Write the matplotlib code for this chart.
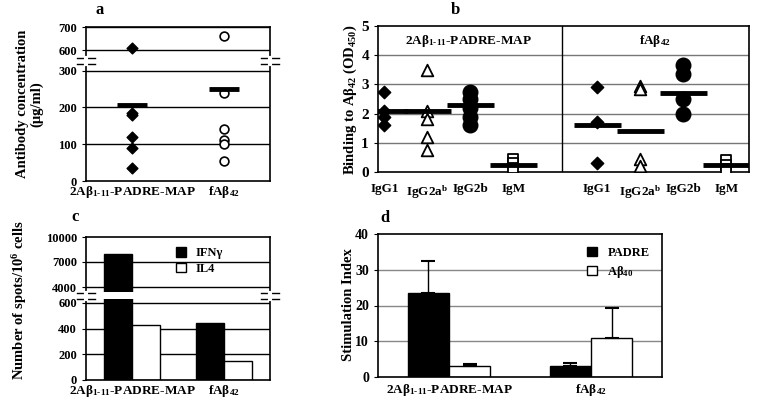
import matplotlib.pyplot as plt
import matplotlib.lines as mlines

plt.rcParams['font.family'] = 'Liberation Serif'
plt.rcParams['font.weight'] = 'bold'
plt.rcParams['mathtext.fontset'] = 'custom'
plt.rcParams['mathtext.rm'] = 'Liberation Serif:bold'
plt.rcParams['mathtext.it'] = 'Liberation Serif:bold'
plt.rcParams['mathtext.bf'] = 'Liberation Serif:bold'

W, H = 758, 408
groups = ['2A\u03b2$_{1\u201011}$-PADRE-MAP', 'fA\u03b2$_{42}$']

# panel a
a_map = [610, 185, 178, 120, 90, 35]
a_fab = [660, 240, 140, 110, 100, 55]
a_means = [207, 250]

# panel b
isotypes = ['IgG1', 'IgG2a$^{\\rm b}$', 'IgG2b', 'IgM']
b_map = [[2.75, 2.1, 1.9, 1.6], [3.5, 2.1, 1.8, 1.2, 0.75],
         [2.75, 2.5, 2.2, 1.9, 1.6], [0.45, 0.3, 0.15]]
b_fab = [[2.9, 1.7, 0.3], [2.95, 2.85, 0.45, 0.2],
         [3.65, 3.35, 2.5, 2.0], [0.4, 0.25, 0.1]]
b_map_means = [2.1, 2.1, 2.3, 0.25]
b_fab_means = [1.6, 1.4, 2.7, 0.25]

# panel c
ifng = [8000, 440]
il4 = [430, 150]

# panel d
padre = [23.5, 3]
padre_err = [9, 1]
ab40 = [3, 11]
ab40_err = [0.7, 8.3]

fig = plt.figure(figsize=(W / 100, H / 100), dpi=100)


def ax_px(l, t, r, b):
    return fig.add_axes([l / W, 1 - b / H, (r - l) / W, (b - t) / H])


def brk(x, y):
    for dy in (-3, 3):
        fig.add_artist(mlines.Line2D([(x - 9) / W, (x + 9) / W], [1 - (y + dy) / H] * 2,
                                     color='k', lw=1))
    fig.add_artist(mlines.Line2D([x / W, x / W], [1 - (y - 3) / H, 1 - (y + 3) / H],
                                 color='white', lw=3))


fs = 9
xfs = 9.5
# ---- a ----
at = ax_px(86, 27, 270, 57)
ab = ax_px(86, 65, 270, 181)
for ax in (at, ab):
    ax.set_xlim(0.5, 2.5)
    ax.tick_params(labelsize=fs, length=3, direction='out')
    ax.tick_params(axis='x', length=0, pad=2)
    for s in ax.spines.values():
        s.set_linewidth(1.2)
at.set_ylim(570, 700)
at.set_yticks([600, 700])
at.spines['bottom'].set_visible(False)
at.set_xticks([])
ab.set_ylim(0, 315)
ab.set_yticks([0, 100, 200, 300])
ab.spines['top'].set_visible(False)
for y in (600, 700):
    at.axhline(y, color='k', lw=1)
for y in (100, 200, 300):
    ab.axhline(y, color='k', lw=1)
for ax in (at, ab):
    ax.scatter([1] * len(a_map), a_map, marker='D', s=30, color='k', zorder=3)
    ax.scatter([2] * len(a_fab), a_fab, marker='o', s=40, facecolor='white',
               edgecolor='k', lw=1.2, zorder=3)
    ax.hlines(a_means, [0.84, 1.84], [1.16, 2.16], color='k', lw=3.5, zorder=4)
ab.set_xticks([1, 2])
ab.set_xticklabels(groups, fontsize=xfs)
brk(86, 61)
brk(270, 61)
fig.text(30 / W, 1 - 104 / H, 'Antibody concentration\n(\u03bcg/ml)', rotation=90,
         ha='center', va='center', fontsize=10.5, linespacing=1.1)
fig.text(100 / W, 1 - 10 / H, 'a', fontsize=12, ha='center', va='center')

# ---- b ----
bx = ax_px(378, 26, 749, 172)
bx.set_xlim(0, 8.63)
bx.set_ylim(0, 5)
bx.set_yticks(range(6))
bx.tick_params(labelsize=11, length=3)
for y in range(1, 5):
    bx.axhline(y, color='#777777', lw=1)
bx.axvline(4.28, color='k', lw=1)
for s in bx.spines.values():
    s.set_linewidth(1.2)
marks = [dict(marker='D', s=40, color='k'),
         dict(marker='^', s=70, facecolor='white', edgecolor='k', lw=1.3),
         dict(marker='o', s=110, color='k'),
         dict(marker='s', s=60, facecolor='white', edgecolor='k', lw=1.3)]
pos_l = [0.15, 1.15, 2.15, 3.15]
pos_r = [5.1, 6.1, 7.1, 8.1]
for i in range(4):
    bx.scatter([pos_l[i]] * len(b_map[i]), b_map[i], zorder=3, **marks[i])
    bx.scatter([pos_r[i]] * len(b_fab[i]), b_fab[i], zorder=3, **marks[i])
    bx.hlines(b_map_means[i], pos_l[i] - 0.55, pos_l[i] + 0.55, color='k', lw=3.5, zorder=4)
    bx.hlines(b_fab_means[i], pos_r[i] - 0.55, pos_r[i] + 0.55, color='k', lw=3.5, zorder=4)
bx.set_xticks(pos_l + pos_r)
bx.set_xticklabels(isotypes + isotypes, fontsize=xfs)
bx.tick_params(axis='x', length=0, pad=8)
bx.text(2.1, 4.5, groups[0], ha='center', va='center', fontsize=9.5)
bx.text(6.45, 4.5, groups[1], ha='center', va='center', fontsize=9.5)
fig.text(350 / W, 1 - 100 / H, 'Binding to A\u03b2$_{42}$ (OD$_{450}$)', rotation=90,
         ha='center', va='center', fontsize=10.5)
fig.text(455 / W, 1 - 10 / H, 'b', fontsize=12, ha='center', va='center')

# ---- c ----
ct = ax_px(86, 237, 270, 292)
cb = ax_px(86, 299, 270, 380)
for ax in (ct, cb):
    ax.set_xlim(0, 2)
    ax.tick_params(labelsize=fs, length=3)
    ax.tick_params(axis='x', length=0, pad=2)
    for s in ax.spines.values():
        s.set_linewidth(1.2)
ct.set_ylim(3400, 10000)
ct.set_yticks([4000, 7000, 10000])
ct.spines['bottom'].set_visible(False)
ct.set_xticks([])
cb.set_ylim(0, 630)
cb.set_yticks([0, 200, 400, 600])
cb.spines['top'].set_visible(False)
for y in (4000, 7000):
    ct.axhline(y, color='k', lw=1, zorder=0)
for y in (200, 400, 600):
    cb.axhline(y, color='k', lw=1, zorder=0)
xs = [0.5, 1.5]
for ax in (ct, cb):
    ax.bar([x - 0.15 for x in xs], ifng, width=0.3, color='k', edgecolor='k', zorder=2,
           label='IFN\u03b3')
    ax.bar([x + 0.15 for x in xs], il4, width=0.3, color='white', edgecolor='k', zorder=2,
           label='IL4')
ct.legend(loc='upper right', bbox_to_anchor=(0.8, 1.0), frameon=False, fontsize=9,
          handlelength=0.8, handleheight=0.8, borderpad=0.3, labelspacing=0.3)
cb.set_xticks(xs)
cb.set_xticklabels(groups, fontsize=xfs)
brk(86, 296)
brk(270, 296)
fig.text(20 / W, 1 - 300 / H, 'Number of spots/10$^{6}$ cells', rotation=90,
         ha='center', va='center', fontsize=10.5)
fig.text(75 / W, 1 - 217 / H, 'c', fontsize=12, ha='center', va='center')

# ---- d ----
dx = ax_px(378, 234, 662, 377)
dx.set_xlim(0, 2)
dx.set_ylim(0, 40)
dx.set_yticks(range(0, 41, 10))
dx.tick_params(labelsize=10, length=3)
dx.tick_params(axis='x', length=0)
for s in dx.spines.values():
    s.set_linewidth(1.2)
for y in (10, 20, 30):
    dx.axhline(y, color='#888888', lw=1, zorder=0)
dxs = [0.5, 1.5]
dx.bar([x - 0.145 for x in dxs], padre, width=0.29, color='k', edgecolor='k', zorder=2,
       yerr=[[0, 0], padre_err], error_kw=dict(capsize=5, lw=1, capthick=1.5), label='PADRE')
dx.bar([x + 0.145 for x in dxs], ab40, width=0.29, color='white', edgecolor='k', zorder=2,
       yerr=[[0, 0], ab40_err], error_kw=dict(capsize=5, lw=1, capthick=1.5),
       label='A\u03b2$_{40}$')
dx.legend(loc='upper right', frameon=False, fontsize=9, handlelength=0.8, handleheight=0.8,
          borderpad=0.5, labelspacing=0.4)
dx.set_xticks(dxs)
dx.set_xticklabels(groups, fontsize=xfs)
fig.text(348 / W, 1 - 305 / H, 'Stimulation Index', rotation=90,
         ha='center', va='center', fontsize=10.5)
fig.text(385 / W, 1 - 218 / H, 'd', fontsize=12, ha='center', va='center')

fig.savefig('out.png', dpi=100)
